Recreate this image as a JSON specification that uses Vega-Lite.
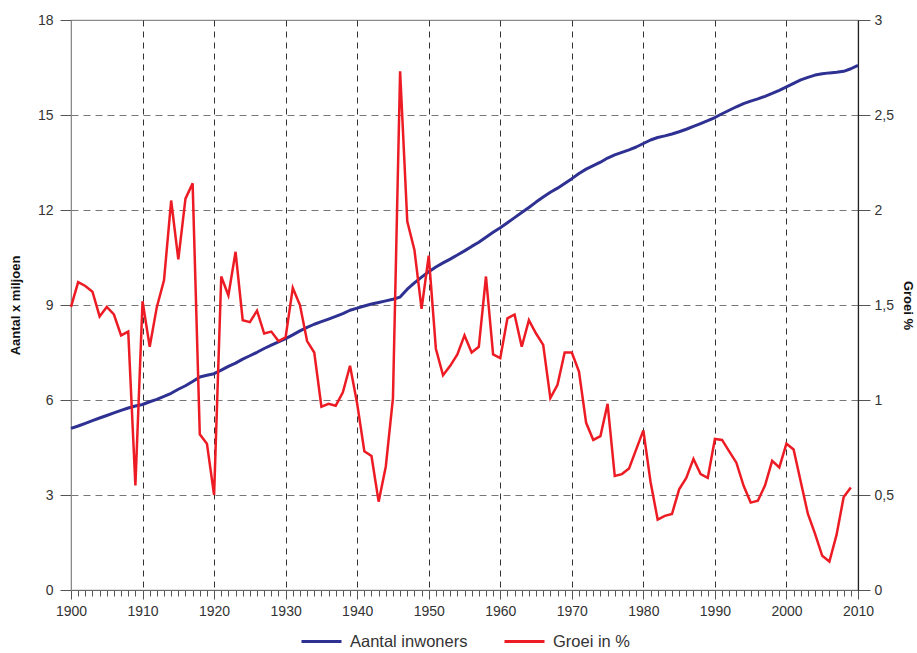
{
  "$schema": "https://vega.github.io/schema/vega-lite/v6.json",
  "autosize": {"type": "none"},
  "width": 787,
  "height": 570,
  "padding": {"left": 71, "top": 20, "right": 59, "bottom": 63},
  "background": "white",
  "config": {
    "font": "Liberation Sans",
    "view": {"stroke": "#8a8a8a", "strokeWidth": 1.2},
    "axis": {"labelFont": "Liberation Sans", "labelFontSize": 14, "labelColor": "#333333", "titleFont": "Liberation Sans", "titleFontSize": 13, "titleFontWeight": "bold", "titleColor": "#111111", "domainColor": "#8a8a8a", "tickColor": "#555555"}
  },
  "data": {"values": [
    {"jaar":1900,"inwoners":5.104,"groei":1.49},{"jaar":1901,"inwoners":5.179,"groei":1.62},{"jaar":1902,"inwoners":5.263,"groei":1.60},{"jaar":1903,"inwoners":5.347,"groei":1.57},{"jaar":1904,"inwoners":5.432,"groei":1.44},{"jaar":1905,"inwoners":5.510,"groei":1.49},{"jaar":1906,"inwoners":5.591,"groei":1.45},{"jaar":1907,"inwoners":5.672,"groei":1.34},{"jaar":1908,"inwoners":5.747,"groei":1.36},{"jaar":1909,"inwoners":5.810,"groei":0.55},
    {"jaar":1910,"inwoners":5.858,"groei":1.52},{"jaar":1911,"inwoners":5.945,"groei":1.28},{"jaar":1912,"inwoners":6.022,"groei":1.49},{"jaar":1913,"inwoners":6.114,"groei":1.63},{"jaar":1914,"inwoners":6.213,"groei":2.05},{"jaar":1915,"inwoners":6.340,"groei":1.74},{"jaar":1916,"inwoners":6.450,"groei":2.06},{"jaar":1917,"inwoners":6.584,"groei":2.14},{"jaar":1918,"inwoners":6.725,"groei":0.82},{"jaar":1919,"inwoners":6.779,"groei":0.77},
    {"jaar":1920,"inwoners":6.831,"groei":0.50},{"jaar":1921,"inwoners":6.941,"groei":1.65},{"jaar":1922,"inwoners":7.060,"groei":1.55},{"jaar":1923,"inwoners":7.165,"groei":1.78},{"jaar":1924,"inwoners":7.291,"groei":1.42},{"jaar":1925,"inwoners":7.397,"groei":1.41},{"jaar":1926,"inwoners":7.507,"groei":1.47},{"jaar":1927,"inwoners":7.626,"groei":1.35},{"jaar":1928,"inwoners":7.731,"groei":1.36},{"jaar":1929,"inwoners":7.832,"groei":1.31},
    {"jaar":1930,"inwoners":7.936,"groei":1.33},{"jaar":1931,"inwoners":8.056,"groei":1.59},{"jaar":1932,"inwoners":8.183,"groei":1.50},{"jaar":1933,"inwoners":8.291,"groei":1.31},{"jaar":1934,"inwoners":8.392,"groei":1.25},{"jaar":1935,"inwoners":8.475,"groei":0.965},{"jaar":1936,"inwoners":8.556,"groei":0.98},{"jaar":1937,"inwoners":8.639,"groei":0.97},{"jaar":1938,"inwoners":8.728,"groei":1.04},{"jaar":1939,"inwoners":8.834,"groei":1.18},
    {"jaar":1940,"inwoners":8.90,"groei":0.98},{"jaar":1941,"inwoners":8.97,"groei":0.73},{"jaar":1942,"inwoners":9.03,"groei":0.705},{"jaar":1943,"inwoners":9.08,"groei":0.465},{"jaar":1944,"inwoners":9.13,"groei":0.65},{"jaar":1945,"inwoners":9.18,"groei":1.01},{"jaar":1946,"inwoners":9.25,"groei":2.73},{"jaar":1947,"inwoners":9.50,"groei":1.94},{"jaar":1948,"inwoners":9.70,"groei":1.79},{"jaar":1949,"inwoners":9.88,"groei":1.48},
    {"jaar":1950,"inwoners":10.05,"groei":1.76},{"jaar":1951,"inwoners":10.20,"groei":1.27},{"jaar":1952,"inwoners":10.33,"groei":1.13},{"jaar":1953,"inwoners":10.45,"groei":1.18},{"jaar":1954,"inwoners":10.58,"groei":1.24},{"jaar":1955,"inwoners":10.71,"groei":1.34},{"jaar":1956,"inwoners":10.85,"groei":1.25},{"jaar":1957,"inwoners":10.98,"groei":1.28},{"jaar":1958,"inwoners":11.14,"groei":1.65},{"jaar":1959,"inwoners":11.30,"groei":1.24},
    {"jaar":1960,"inwoners":11.44,"groei":1.22},{"jaar":1961,"inwoners":11.60,"groei":1.43},{"jaar":1962,"inwoners":11.76,"groei":1.45},{"jaar":1963,"inwoners":11.92,"groei":1.28},{"jaar":1964,"inwoners":12.08,"groei":1.42},{"jaar":1965,"inwoners":12.25,"groei":1.35},{"jaar":1966,"inwoners":12.41,"groei":1.29},{"jaar":1967,"inwoners":12.56,"groei":1.01},{"jaar":1968,"inwoners":12.69,"groei":1.08},{"jaar":1969,"inwoners":12.84,"groei":1.25},
    {"jaar":1970,"inwoners":12.99,"groei":1.25},{"jaar":1971,"inwoners":13.15,"groei":1.15},{"jaar":1972,"inwoners":13.29,"groei":0.88},{"jaar":1973,"inwoners":13.40,"groei":0.79},{"jaar":1974,"inwoners":13.51,"groei":0.81},{"jaar":1975,"inwoners":13.64,"groei":0.98},{"jaar":1976,"inwoners":13.74,"groei":0.60},{"jaar":1977,"inwoners":13.82,"groei":0.61},{"jaar":1978,"inwoners":13.90,"groei":0.64},{"jaar":1979,"inwoners":13.99,"groei":0.74},
    {"jaar":1980,"inwoners":14.10,"groei":0.84},{"jaar":1981,"inwoners":14.21,"groei":0.57},{"jaar":1982,"inwoners":14.29,"groei":0.37},{"jaar":1983,"inwoners":14.34,"groei":0.39},{"jaar":1984,"inwoners":14.40,"groei":0.40},{"jaar":1985,"inwoners":14.47,"groei":0.53},{"jaar":1986,"inwoners":14.55,"groei":0.59},{"jaar":1987,"inwoners":14.64,"groei":0.69},{"jaar":1988,"inwoners":14.73,"groei":0.61},{"jaar":1989,"inwoners":14.82,"groei":0.59},
    {"jaar":1990,"inwoners":14.92,"groei":0.795},{"jaar":1991,"inwoners":15.04,"groei":0.79},{"jaar":1992,"inwoners":15.15,"groei":0.73},{"jaar":1993,"inwoners":15.26,"groei":0.67},{"jaar":1994,"inwoners":15.36,"groei":0.55},{"jaar":1995,"inwoners":15.44,"groei":0.46},{"jaar":1996,"inwoners":15.51,"groei":0.47},{"jaar":1997,"inwoners":15.59,"groei":0.55},{"jaar":1998,"inwoners":15.68,"groei":0.68},{"jaar":1999,"inwoners":15.78,"groei":0.645},
    {"jaar":2000,"inwoners":15.89,"groei":0.77},{"jaar":2001,"inwoners":16.00,"groei":0.74},{"jaar":2002,"inwoners":16.11,"groei":0.57},{"jaar":2003,"inwoners":16.19,"groei":0.40},{"jaar":2004,"inwoners":16.26,"groei":0.295},{"jaar":2005,"inwoners":16.30,"groei":0.18},{"jaar":2006,"inwoners":16.33,"groei":0.15},{"jaar":2007,"inwoners":16.35,"groei":0.29},{"jaar":2008,"inwoners":16.38,"groei":0.49},{"jaar":2009,"inwoners":16.46,"groei":0.54},
    {"jaar":2010,"inwoners":16.57,"groei":null}
  ]},
  "encoding": {
    "x": {
      "field": "jaar", "type": "quantitative",
      "scale": {"domain": [1900, 2010], "nice": false, "zero": false},
      "axis": {
        "title": null,
        "values": [1900,1901,1902,1903,1904,1905,1906,1907,1908,1909,1910,1911,1912,1913,1914,1915,1916,1917,1918,1919,1920,1921,1922,1923,1924,1925,1926,1927,1928,1929,1930,1931,1932,1933,1934,1935,1936,1937,1938,1939,1940,1941,1942,1943,1944,1945,1946,1947,1948,1949,1950,1951,1952,1953,1954,1955,1956,1957,1958,1959,1960,1961,1962,1963,1964,1965,1966,1967,1968,1969,1970,1971,1972,1973,1974,1975,1976,1977,1978,1979,1980,1981,1982,1983,1984,1985,1986,1987,1988,1989,1990,1991,1992,1993,1994,1995,1996,1997,1998,1999,2000,2001,2002,2003,2004,2005,2006,2007,2008,2009,2010],
        "format": "d",
        "labelExpr": "datum.value % 10 === 0 ? datum.label : ''",
        "labelOverlap": false,
        "labelPadding": 5,
        "labelFlush": false,
        "domainColor": "#666666",
        "domainWidth": 1.2,
        "tickSize": {"condition": {"test": "datum.value % 10 === 0", "value": 9}, "value": 6},
        "tickColor": "#555555",
        "grid": true,
        "gridColor": "#333333",
        "gridDash": [6, 5],
        "gridWidth": 1,
        "gridOpacity": {"condition": {"test": "datum.value % 10 === 0 && datum.value > 1900 && datum.value < 2010", "value": 1}, "value": 0}
      }
    }
  },
  "layer": [
    {
      "mark": {"type": "line", "strokeWidth": 3, "strokeJoin": "round"},
      "encoding": {
        "y": {
          "field": "inwoners", "type": "quantitative",
          "scale": {"domain": [0, 18], "nice": false},
          "axis": {
            "title": "Aantal x miljoen",
            "values": [0, 3, 6, 9, 12, 15, 18],
            "tickSize": 11,
            "labelPadding": 7,
            "grid": true,
            "gridColor": "#777777",
            "gridDash": [7, 5],
            "gridOpacity": {"condition": {"test": "datum.value > 0 && datum.value < 18", "value": 1}, "value": 0},
            "titleX": -56,
            "titleY": 285,
            "titleAngle": 270,
            "titleAlign": "center",
            "titleBaseline": "middle"
          }
        },
        "color": {
          "datum": "Aantal inwoners",
          "type": "nominal",
          "scale": {"domain": ["Aantal inwoners", "Groei in %"], "range": ["#2E3192", "#ED1C24"]},
          "legend": {
            "title": null,
            "orient": "none",
            "direction": "horizontal",
            "legendX": 229,
            "legendY": 600,
            "symbolType": "stroke",
            "symbolStrokeWidth": 3,
            "symbolSize": 1600,
            "labelFontSize": 16.5,
            "labelFont": "Liberation Sans",
            "labelColor": "#333333",
            "labelOffset": 7,
            "columnPadding": 30
          }
        }
      }
    },
    {
      "transform": [{"filter": "isValid(datum.groei)"}],
      "mark": {"type": "line", "strokeWidth": 2.5, "strokeJoin": "miter"},
      "encoding": {
        "y": {
          "field": "groei", "type": "quantitative",
          "scale": {"domain": [0, 3], "nice": false},
          "axis": {
            "orient": "right",
            "title": "Groei %",
            "values": [0, 0.5, 1, 1.5, 2, 2.5, 3],
            "labelExpr": "replace(format(datum.value, '.1~f'), '.', ',')",
            "tickSize": 12,
            "labelPadding": 4,
            "grid": false,
            "domainColor": "#222222",
            "domainWidth": 1.2,
            "titleX": 49,
            "titleY": 285,
            "titleAngle": 90,
            "titleAlign": "center",
            "titleBaseline": "middle"
          }
        },
        "color": {"datum": "Groei in %", "type": "nominal"}
      }
    }
  ],
  "resolve": {"scale": {"y": "independent"}}
}
